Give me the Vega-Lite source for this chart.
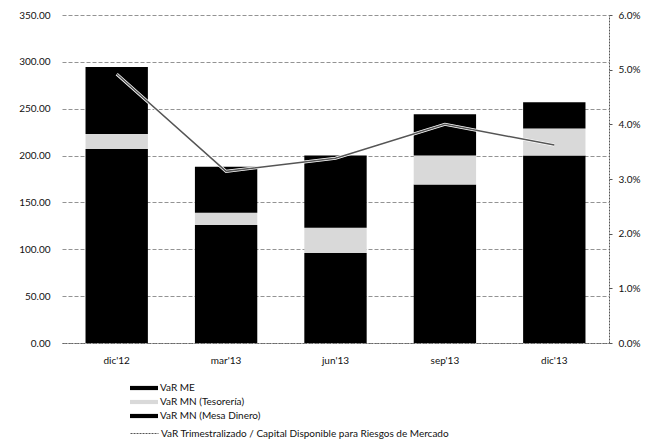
{
  "$schema": "https://vega.github.io/schema/vega-lite/v6.json",
  "width": 547,
  "height": 328,
  "autosize": "none",
  "padding": {"left": 62, "top": 15, "right": 51, "bottom": 103},
  "background": "white",
  "config": {
    "font": "Lato",
    "view": {"stroke": null},
    "axis": {"labelFont": "Lato", "labelFontSize": 10, "labelColor": "#111", "titleFont": "Lato"},
    "legend": {"labelFont": "Lato", "labelFontSize": 10, "labelColor": "#111"}
  },
  "datasets": {
    "bars": [
      {"period": "dic'12", "series": "VaR MN (Mesa Dinero)", "value": 207},
      {"period": "dic'12", "series": "VaR MN (Tesorería)", "value": 16},
      {"period": "dic'12", "series": "VaR ME", "value": 71.5},
      {"period": "mar'13", "series": "VaR MN (Mesa Dinero)", "value": 126},
      {"period": "mar'13", "series": "VaR MN (Tesorería)", "value": 13},
      {"period": "mar'13", "series": "VaR ME", "value": 49},
      {"period": "jun'13", "series": "VaR MN (Mesa Dinero)", "value": 96},
      {"period": "jun'13", "series": "VaR MN (Tesorería)", "value": 27},
      {"period": "jun'13", "series": "VaR ME", "value": 77},
      {"period": "sep'13", "series": "VaR MN (Mesa Dinero)", "value": 169},
      {"period": "sep'13", "series": "VaR MN (Tesorería)", "value": 31},
      {"period": "sep'13", "series": "VaR ME", "value": 44},
      {"period": "dic'13", "series": "VaR MN (Mesa Dinero)", "value": 200},
      {"period": "dic'13", "series": "VaR MN (Tesorería)", "value": 29},
      {"period": "dic'13", "series": "VaR ME", "value": 28}
    ],
    "ratio": [
      {"period": "dic'12", "ratio": 0.0492},
      {"period": "mar'13", "ratio": 0.0314},
      {"period": "jun'13", "ratio": 0.0338},
      {"period": "sep'13", "ratio": 0.0400},
      {"period": "dic'13", "ratio": 0.0362}
    ]
  },
  "encoding": {
    "x": {
      "field": "period",
      "type": "nominal",
      "sort": ["dic'12", "mar'13", "jun'13", "sep'13", "dic'13"],
      "scale": {"paddingInner": 0.43, "paddingOuter": 0.215},
      "axis": {"title": null, "labelAngle": 0, "ticks": false, "labelPadding": 12, "domainColor": "#666", "domainDash": [2, 1], "domainWidth": 1}
    }
  },
  "layer": [
    {
      "data": {"name": "bars"},
      "transform": [
        {"calculate": "indexof(['VaR MN (Mesa Dinero)', 'VaR MN (Tesorería)', 'VaR ME'], datum.series)", "as": "stackorder"}
      ],
      "mark": {"type": "bar"},
      "encoding": {
        "y": {
          "field": "value",
          "type": "quantitative",
          "stack": "zero",
          "scale": {"domain": [0, 350], "nice": false},
          "axis": {"title": null, "values": [0, 50, 100, 150, 200, 250, 300, 350], "format": ".2f", "ticks": false, "domain": false, "labelPadding": 12, "grid": true, "gridColor": "#777", "gridDash": [4, 2], "gridWidth": 0.8}
        },
        "order": {"field": "stackorder", "type": "quantitative", "sort": "ascending"},
        "color": {
          "field": "series",
          "type": "nominal",
          "scale": {"domain": ["VaR ME", "VaR MN (Tesorería)", "VaR MN (Mesa Dinero)"], "range": ["#000000", "#d9d9d9", "#000000"]},
          "legend": {"title": null, "orient": "none", "legendX": 76, "legendY": 367, "direction": "vertical", "symbolType": "M-2.33,-0.35L2.33,-0.35L2.33,0.35L-2.33,0.35Z", "symbolSize": 144, "rowPadding": 3, "labelOffset": 10, "padding": 0, "symbolStrokeWidth": 0}
        }
      }
    },
    {
      "data": {"name": "ratio"},
      "encoding": {
        "y": {
          "field": "ratio",
          "type": "quantitative",
          "scale": {"domain": [0, 0.06], "nice": false},
          "axis": {"title": null, "orient": "right", "values": [0, 0.01, 0.02, 0.03, 0.04, 0.05, 0.06], "format": ".1%", "grid": false, "tickSize": 3, "tickColor": "#555", "domainColor": "#555", "domainDash": [2, 1], "labelPadding": 6}
        }
      },
      "layer": [
        {"mark": {"type": "line", "color": "white", "strokeWidth": 3}},
        {
          "mark": {"type": "line", "strokeWidth": 1.5},
          "encoding": {
            "stroke": {
              "datum": "VaR Trimestralizado / Capital Disponible para Riesgos de Mercado",
              "type": "nominal",
              "scale": {"range": ["#555555"]},
              "legend": {"title": null, "orient": "none", "legendX": 76, "legendY": 412, "symbolType": "M-2.33,0L2.33,0", "symbolSize": 144, "symbolDash": [2, 1], "symbolStrokeWidth": 1, "symbolFillColor": "transparent", "labelOffset": 10, "padding": 0, "labelLimit": 400}
            }
          }
        }
      ]
    }
  ],
  "resolve": {"scale": {"y": "independent"}}
}
